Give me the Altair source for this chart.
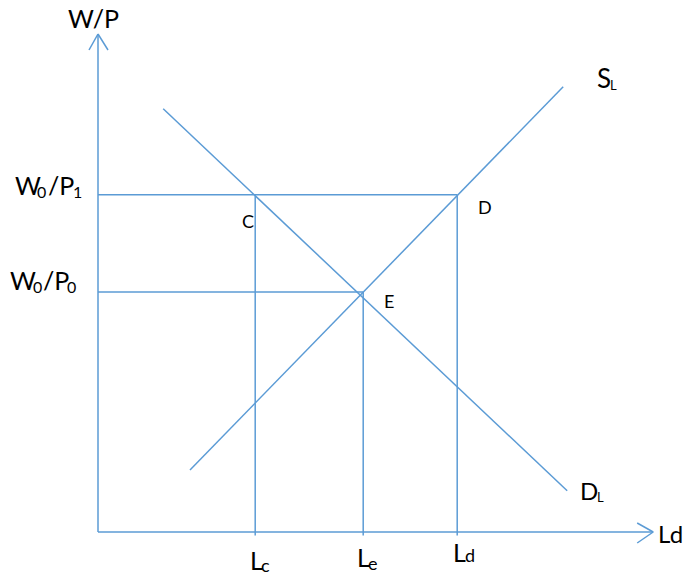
import altair as alt
import pandas as pd

# ---- diagram values (model units) ----
L_c, L_e, L_d = 3.93, 6.63, 8.98          # labour quantities
W_0, W_1 = 6.0, 8.43                      # real wage levels W0/P0, W0/P1
demand_x = [1.63, 11.73]
demand_y = [10.58, 1.03]
supply_x = [2.30, 11.63]
supply_y = [1.55, 11.13]
x_axis_end = 13.88
y_axis_end = 12.45
tick_below = -0.09

# ---- line segments ----
seg_x = [0, 0, -0.225, 0.25, 0, 13.48, 13.48,
         0, 0, L_c, L_e, L_d, demand_x[0], supply_x[0]]
seg_y = [0, 0, 12.05, 12.05, W_1, 0.225, -0.275,
         W_1, W_0, tick_below, tick_below, tick_below, demand_y[0], supply_y[0]]
seg_x2 = [0, x_axis_end, 0, 0, 0, x_axis_end, x_axis_end,
          L_d, L_e, L_c, L_e, L_d, demand_x[1], supply_x[1]]
seg_y2 = [y_axis_end, 0, y_axis_end, y_axis_end, W_1, 0, 0,
          W_1, W_0, W_1, W_0, W_1, demand_y[1], supply_y[1]]

segments = pd.DataFrame({"x": seg_x, "y": seg_y, "x2": seg_x2, "y2": seg_y2})

# ---- labels ----
lab_text = ["W/P",
            "W", "0", "/P", "1",
            "W", "0", "/P", "0",
            "C", "D", "E",
            "S", "L", "D", "L",
            "Ld",
            "L", "c", "L", "e", "L", "d"]
lab_x = [-0.75,
         -2.075, -1.525, -1.25, -0.625,
         -2.2, -1.625, -1.375, -0.775,
         3.6, 9.5, 7.15,
         12.475, 12.8, 12.05, 12.475,
         14.0,
         3.8, 4.075, 6.475, 6.75, 8.875, 9.175]
lab_y = [12.6,
         8.425, 8.35, 8.425, 8.35,
         6.05, 5.975, 6.05, 5.975,
         7.6, 7.95, 5.6,
         11.1, 11.05, 0.8, 0.75,
         -0.275,
         -0.95, -1.0, -0.875, -0.95, -0.75, -0.75]
lab_size = [25,
            25, 16, 25, 16,
            25, 16, 25, 16,
            18, 18, 18,
            26, 13, 24, 13,
            24,
            25, 18, 25, 18, 25, 18]

labels = pd.DataFrame({"text": lab_text, "x": lab_x, "y": lab_y, "size": lab_size})

W, H = 675, 566
x_lo = -2.25
y_hi = 13.1
xs = alt.Scale(domain=[x_lo, x_lo + W / 40], nice=False, zero=False)
ys = alt.Scale(domain=[y_hi - H / 40, y_hi], nice=False, zero=False)

lines = alt.Chart(segments).mark_rule(color="#5B9BD5", strokeWidth=1.5).encode(
    x=alt.X("x:Q", scale=xs, axis=None),
    y=alt.Y("y:Q", scale=ys, axis=None),
    x2="x2:Q",
    y2="y2:Q",
)

texts = alt.Chart(labels).mark_text(
    align="left", baseline="alphabetic", font="Lato", color="black"
).encode(
    x=alt.X("x:Q", scale=xs, axis=None),
    y=alt.Y("y:Q", scale=ys, axis=None),
    text="text:N",
    size=alt.Size("size:Q", scale=None, legend=None),
)

chart = (lines + texts).properties(
    width=W, height=H, padding=0, autosize=alt.AutoSizeParams(type="none")
).configure_view(stroke=None)

chart.save("out.html", embed_options={"renderer": "svg", "actions": False})
